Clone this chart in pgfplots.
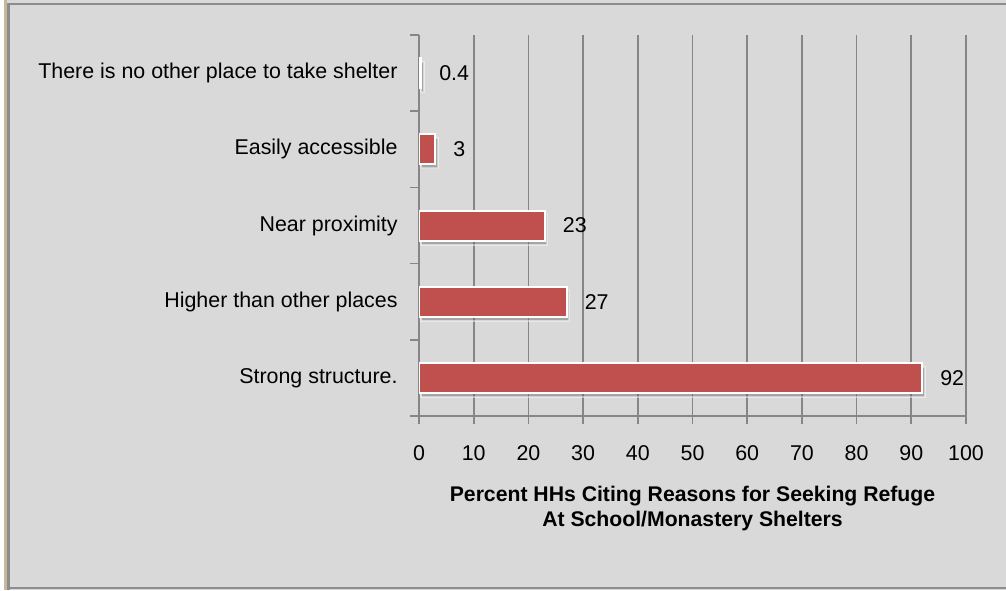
\documentclass[border=0pt]{standalone}
\usepackage{pgfplots}
\pgfplotsset{compat=1.18}
\usepackage{fontspec}
\setmainfont{Liberation Sans}
\usetikzlibrary{shadows}
\definecolor{bg}{HTML}{D9D9D9}
\definecolor{barred}{HTML}{C0504D}
\definecolor{gridc}{HTML}{868686}
\definecolor{bord}{HTML}{8C8C8C}
\definecolor{tan}{HTML}{C4B998}
\begin{document}
\fontsize{10.6}{12.7}\selectfont
\begin{tikzpicture}
\useasboundingbox (0,0) rectangle (503pt,295pt);
\fill[bg] (0,0) rectangle (503pt,295pt);
\fill[white] (0,0) rectangle (2pt,295pt);
\fill[tan] (2pt,0) rectangle (3.5pt,295pt);
\fill[bord] (3.5pt,0) rectangle (5pt,293pt);
\fill[bord] (3.5pt,292.3pt) rectangle (503pt,293.3pt);
\fill[bord] (3.5pt,0.6pt) rectangle (503pt,1.6pt);
\begin{axis}[
  at={(209.5pt,87pt)}, anchor=south west,
  scale only axis, width=273.5pt, height=190.5pt,
  xbar, bar width=15pt,
  xmin=0, xmax=100, ymin=-0.5, ymax=4.5,
  xtick={0,10,...,100},
  ytick={0,1,2,3,4},
  yticklabels={Strong structure.,Higher than other places,Near proximity,Easily accessible,There is no other place to take shelter},
  minor ytick={-0.5,0.5,...,4.5},
  major y tick style={draw=none},
  minor tick length=4.5pt,
  major tick length=4pt,
  tick align=outside,
  tick style={gridc, line width=0.85pt},
  minor y tick style={gridc, line width=0.85pt},
  axis x line*=bottom, axis y line*=left,
  axis line style={gridc, line width=0.85pt},
  xmajorgrids, grid style={gridc, line width=0.85pt},
  yticklabel style={font=\fontsize{10.7}{12.7}\selectfont, xshift=-3pt},
  xticklabel style={font=\fontsize{10.7}{12.7}\selectfont, yshift=-7pt},
  /pgf/number format/assume math mode=true,
  xlabel={\bfseries Percent HHs Citing Reasons for Seeking Refuge\\\bfseries At School/Monastery Shelters},
  xlabel style={align=center, font=\fontsize{10.6}{12.5}\selectfont, yshift=-5.5pt},
  nodes near coords,
  nodes near coords style={font=\fontsize{10.7}{12.7}\selectfont, black, anchor=west, xshift=5pt},
  point meta=explicit symbolic,
]
\addplot[fill=barred, draw=white, line width=1pt,
  drop shadow={opacity=0.45, fill=black!60, shadow xshift=1.2pt, shadow yshift=-2pt}]
  coordinates {(92,0) [92] (27,1) [27] (23,2) [23] (3,3) [3] (0.4,4) [0.4]};
\end{axis}
\end{tikzpicture}
\end{document}
